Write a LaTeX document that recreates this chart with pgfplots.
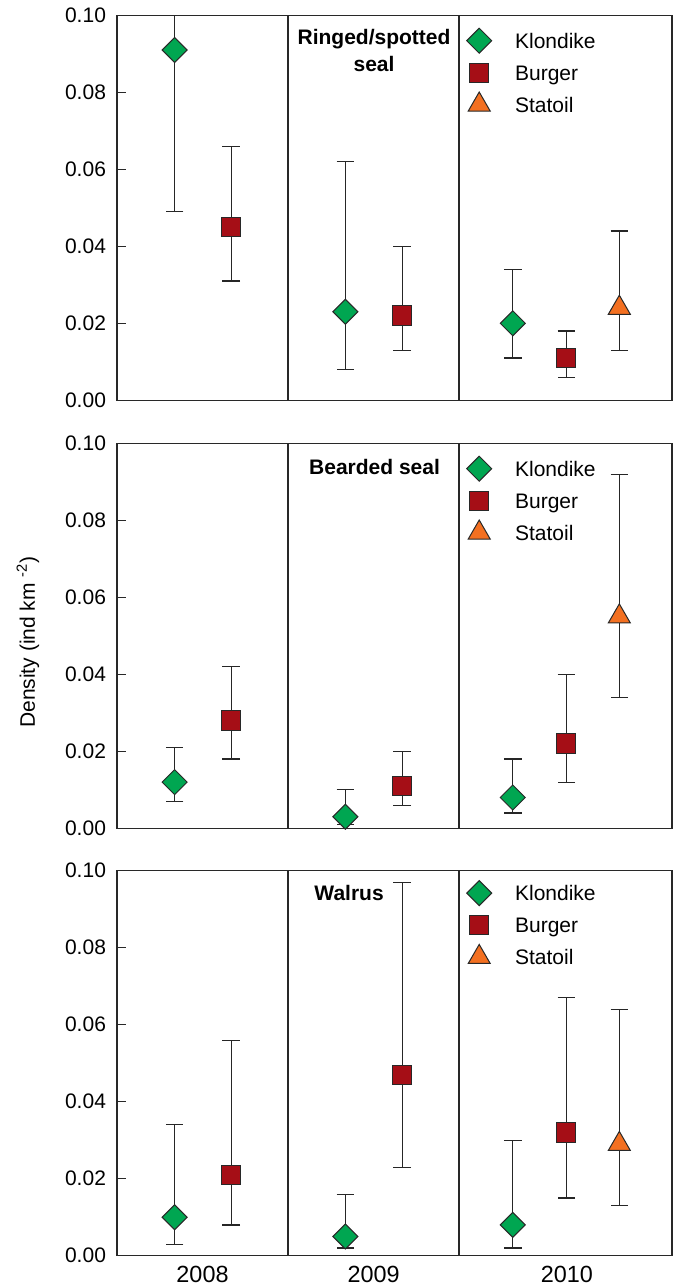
\documentclass[border=0pt]{standalone}
\usepackage{fontspec}
\setmainfont{Liberation Sans}
\usepackage{pgfplots}
\pgfplotsset{compat=1.18}

\definecolor{kgreen}{RGB}{0,166,81}
\definecolor{bred}{RGB}{165,14,22}
\definecolor{sorange}{RGB}{243,112,33}
\definecolor{frame}{RGB}{40,40,40}

\newcommand{\fs}{\fontsize{10.5}{12}\selectfont}

\pgfplotsset{
  panel/.style={
    scale only axis, width=277.5pt, height=192.5pt,
    xmin=-0.5, xmax=2.745, ymin=0, ymax=0.1,
    ytick={0,0.02,0.04,0.06,0.08,0.1},
    /pgf/number format/assume math mode=true,
    yticklabel style={/pgf/number format/fixed, /pgf/number format/fixed zerofill, /pgf/number format/precision=2, xshift=-2pt},
    tick align=inside, ytick pos=left, major tick length=4.5pt,
    xtick=\empty, xtick style={draw=none},
    axis line style={frame, line width=0.6pt},
    ytick style={frame, line width=0.6pt},
    tick label style={font=\fs},
    xticklabel style={font=\fontsize{11.7}{13}\selectfont, yshift=-1.5pt},
    clip=true,
    legend style={draw=none, fill=none, inner sep=0pt, anchor=north west,
      nodes={inner sep=0pt, text height=7.5pt, text depth=0pt, minimum height=16pt, font=\fs},
      row sep=0pt, /tikz/every odd column/.append style={column sep=11.7pt}},
    legend cell align=left,
    error bars/y dir=both, error bars/y explicit,
    error bars/error bar style={line width=0.6pt, draw=black!85},
    error bars/error mark options={line width=0.6pt, draw=black!85, mark size=4.4pt, rotate=90},
  },
  kl/.style={only marks, mark=square*, mark size=4.42pt, mark options={rotate=45, fill=kgreen, draw=frame, line width=0.5pt}},
  bu/.style={only marks, mark=square*, mark size=4.83pt, mark options={fill=bred, draw=frame, line width=0.5pt}},
  st/.style={only marks, mark=triangle*, mark size=6.35pt, mark options={fill=sorange, draw=frame, line width=0.5pt}},
}

\begin{document}
\begin{tikzpicture}[x=1pt,y=1pt]
\path[use as bounding box] (0,0) rectangle (340.5,-643);

% Panel 1: Ringed/spotted seal
\begin{axis}[panel, at={(58.5pt,-7.65pt)}, anchor=north west,
  legend style={at={(rel axis cs:0.6294,0.9766)}}]
\addplot[kl] coordinates {
  (-0.163,0.091) += (0,0.019) -= (0,0.042)
  (0.835,0.023) += (0,0.039) -= (0,0.015)
  (1.814,0.020) += (0,0.014) -= (0,0.009)
};
\addplot[bu] coordinates {
  (0.168,0.045) += (0,0.021) -= (0,0.014)
  (1.168,0.022) += (0,0.018) -= (0,0.009)
  (2.127,0.011) += (0,0.007) -= (0,0.005)
};
\addplot[st] coordinates {
  (2.437,0.024) += (0,0.020) -= (0,0.011)
};
\legend{Klondike,Burger,Statoil}
\draw[frame, line width=0.6pt] (axis cs:0.5,0) -- (axis cs:0.5,0.1);
\draw[frame, line width=0.6pt] (axis cs:1.5,0) -- (axis cs:1.5,0.1);
\node[font=\bfseries\fs, anchor=base] at (axis cs:1.003,0.0925) {Ringed/spotted};
\node[font=\bfseries\fs, anchor=base] at (axis cs:1.003,0.0853) {seal};
\end{axis}

% Panel 2: Bearded seal
\begin{axis}[panel, at={(58.5pt,-221.65pt)}, anchor=north west,
  legend style={at={(rel axis cs:0.6294,0.9766)}}]
\addplot[kl] coordinates {
  (-0.163,0.012) += (0,0.009) -= (0,0.005)
  (0.835,0.003) += (0,0.007) -= (0,0.002)
  (1.814,0.008) += (0,0.010) -= (0,0.004)
};
\addplot[bu] coordinates {
  (0.168,0.028) += (0,0.014) -= (0,0.010)
  (1.168,0.011) += (0,0.009) -= (0,0.005)
  (2.127,0.022) += (0,0.018) -= (0,0.010)
};
\addplot[st] coordinates {
  (2.437,0.055) += (0,0.037) -= (0,0.021)
};
\legend{Klondike,Burger,Statoil}
\draw[frame, line width=0.6pt] (axis cs:0.5,0) -- (axis cs:0.5,0.1);
\draw[frame, line width=0.6pt] (axis cs:1.5,0) -- (axis cs:1.5,0.1);
\node[font=\bfseries\fs, anchor=base] at (axis cs:1.006,0.0919) {Bearded seal};
\end{axis}

% Panel 3: Walrus
\begin{axis}[panel, at={(58.5pt,-435.35pt)}, anchor=north west,
  legend style={at={(rel axis cs:0.6294,0.9844)}},
  xtick={0,1,2.13}, xticklabels={2008,2009,2010}]
\addplot[kl] coordinates {
  (-0.163,0.010) += (0,0.024) -= (0,0.007)
  (0.835,0.005) += (0,0.011) -= (0,0.003)
  (1.814,0.008) += (0,0.022) -= (0,0.006)
};
\addplot[bu] coordinates {
  (0.168,0.021) += (0,0.035) -= (0,0.013)
  (1.168,0.047) += (0,0.050) -= (0,0.024)
  (2.127,0.032) += (0,0.035) -= (0,0.017)
};
\addplot[st] coordinates {
  (2.437,0.029) += (0,0.035) -= (0,0.016)
};
\legend{Klondike,Burger,Statoil}
\draw[frame, line width=0.6pt] (axis cs:0.5,0) -- (axis cs:0.5,0.1);
\draw[frame, line width=0.6pt] (axis cs:1.5,0) -- (axis cs:1.5,0.1);
\node[font=\bfseries\fs, anchor=base] at (axis cs:0.857,0.0923) {Walrus};
\end{axis}

\node[rotate=90, font=\fs] at (14pt,-321pt) {Density (ind km \textsuperscript{-2})};
\end{tikzpicture}
\end{document}
